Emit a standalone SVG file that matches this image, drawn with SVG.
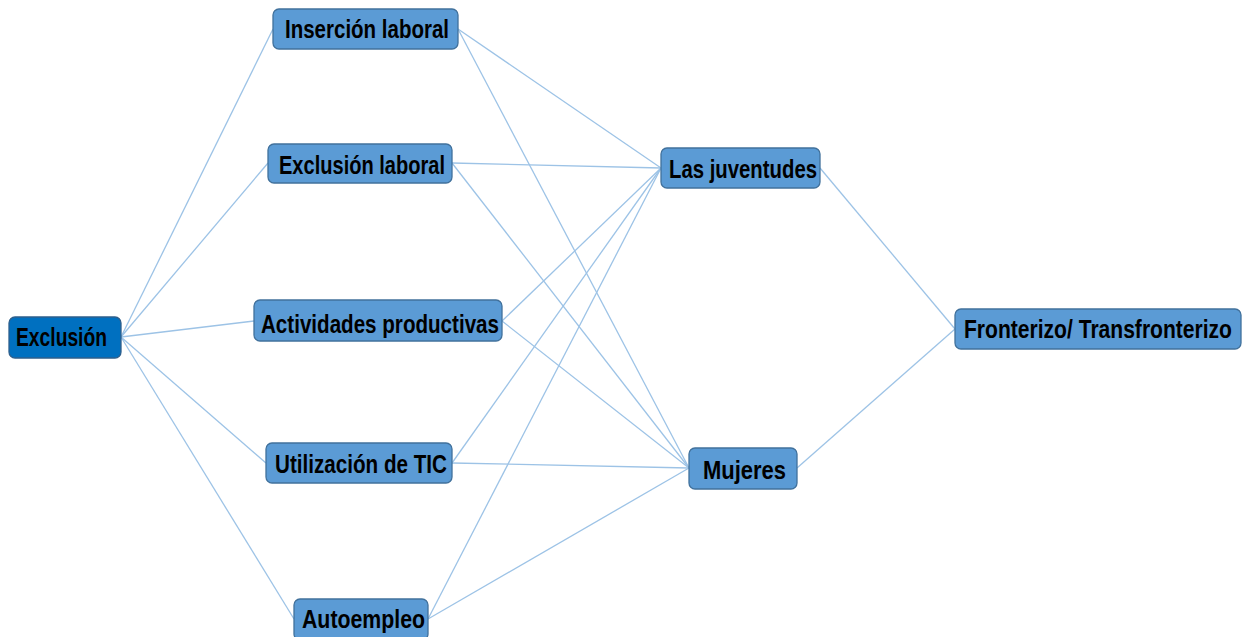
<svg xmlns="http://www.w3.org/2000/svg" width="1244" height="637" viewBox="0 0 1244 637">
<style>
.n{fill:#5B9BD5;stroke:#41719C;stroke-width:1.3}
.root{fill:#0070C0;stroke:#2E5F8C;stroke-width:1.3}
.t{font-family:"Liberation Sans Narrow","Liberation Sans",Arial,sans-serif;font-weight:bold;font-size:25px;fill:#000}
.e line{stroke:#9DC3E6;stroke-width:1.3}
</style>
<rect width="1244" height="637" fill="#fff"/>
<g class="e" id="connectors">
<line x1="121" y1="337" x2="273" y2="29"/>
<line x1="121" y1="337" x2="268" y2="163"/>
<line x1="121" y1="337" x2="254" y2="321"/>
<line x1="121" y1="337" x2="266" y2="463"/>
<line x1="121" y1="337" x2="294" y2="619"/>
<line x1="458" y1="29" x2="661" y2="168"/>
<line x1="458" y1="29" x2="689" y2="468"/>
<line x1="452" y1="163" x2="661" y2="168"/>
<line x1="452" y1="163" x2="689" y2="468"/>
<line x1="502" y1="321" x2="661" y2="168"/>
<line x1="502" y1="321" x2="689" y2="468"/>
<line x1="452" y1="463" x2="661" y2="168"/>
<line x1="452" y1="463" x2="689" y2="468"/>
<line x1="428" y1="619" x2="661" y2="168"/>
<line x1="428" y1="619" x2="689" y2="468"/>
<line x1="820" y1="168" x2="955" y2="329"/>
<line x1="797" y1="468" x2="955" y2="329"/>
</g>
<g id="exclusion"><rect class="root" x="9" y="317" width="112" height="41" rx="6"/><text class="t" x="16" y="346" textLength="91" lengthAdjust="spacingAndGlyphs">Exclusión</text></g>
<g id="insercion"><rect class="n" x="273" y="9" width="185" height="40" rx="6"/><text class="t" x="285" y="38" textLength="164" lengthAdjust="spacingAndGlyphs">Inserción laboral</text></g>
<g id="exclusion-laboral"><rect class="n" x="268" y="144" width="184" height="39" rx="6"/><text class="t" x="279" y="174" textLength="166" lengthAdjust="spacingAndGlyphs">Exclusión laboral</text></g>
<g id="actividades"><rect class="n" x="254" y="300" width="248" height="41" rx="6"/><text class="t" x="261" y="333" textLength="238" lengthAdjust="spacingAndGlyphs">Actividades productivas</text></g>
<g id="tic"><rect class="n" x="266" y="443" width="186" height="40" rx="6"/><text class="t" x="275" y="473" textLength="172" lengthAdjust="spacingAndGlyphs">Utilización de TIC</text></g>
<g id="autoempleo"><rect class="n" x="294" y="599" width="134" height="41" rx="6"/><text class="t" x="302" y="628" textLength="123" lengthAdjust="spacingAndGlyphs">Autoempleo</text></g>
<g id="juventudes"><rect class="n" x="661" y="148" width="159" height="40" rx="6"/><text class="t" x="669" y="178" textLength="148" lengthAdjust="spacingAndGlyphs">Las juventudes</text></g>
<g id="mujeres"><rect class="n" x="689" y="448" width="108" height="41" rx="6"/><text class="t" x="703" y="479" textLength="83" lengthAdjust="spacingAndGlyphs">Mujeres</text></g>
<g id="fronterizo"><rect class="n" x="955" y="309" width="286" height="40" rx="6"/><text class="t" x="964" y="338" textLength="268" lengthAdjust="spacingAndGlyphs">Fronterizo/ Transfronterizo</text></g>
</svg>
